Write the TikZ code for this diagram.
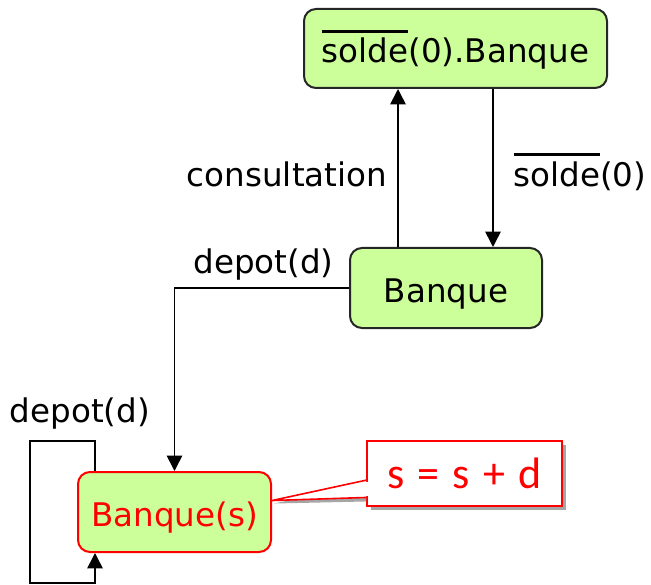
\documentclass[tikz,border=0pt]{standalone}
\usepackage{fontspec}
\setmainfont{DejaVu Sans}
\newfontfamily\notefont{Carlito}
\usetikzlibrary{arrows.meta,calc}
\definecolor{stategreen}{HTML}{CCFF99}
\definecolor{noteshadow}{HTML}{A6A6A6}
% overline that does not change the height of the text it marks
\newcommand\barred[1]{\setbox0=\hbox{#1}\rlap{\smash{\raisebox{\dimexpr\ht0+3.8pt\relax}{\rule{\wd0}{2.2pt}}}}\box0}
\begin{document}
\begin{tikzpicture}[x=0.75pt,y=-0.75pt,
  every node/.style={font=\fontsize{24.4pt}{29pt}\selectfont},
  state/.style={draw=black!85, line width=1.5pt, fill=stategreen, rounded corners=9pt,
    minimum height=80*0.75pt, text height=21.75pt, text depth=0pt, inner sep=0pt},
  arr/.style={line width=1.2pt, -{Triangle[length=11.5pt,width=11.5pt]}},
  lbl/.style={anchor=base, inner sep=0pt}]
\useasboundingbox (0,0) rectangle (651,585);

% states
\node[state, minimum width=303*0.75pt, minimum height=79*0.75pt] (top) at (455.5,48.5) {\barred{solde}(0).Banque};
\node[state, minimum width=192*0.75pt] (bq) at (446,288) {Banque};
\node[state, minimum width=193*0.75pt, draw=red, text=red] (bqs) at (174.5,512) {Banque(s)};

% note attached to Banque(s)
\coordinate (nt) at (464.5,473.5);
\fill[noteshadow] ($(nt)+(-97.5+4,-32.5+4)$) rectangle ($(nt)+(97.5+4,32.5+4)$);
\node[draw=red, line width=1.2pt, fill=white, text=red, minimum width=195*0.75pt, minimum height=65*0.75pt,
  text height=22pt, text depth=0pt, inner sep=0pt, font=\notefont\fontsize{33pt}{38pt}\selectfont] (note) at (nt)
  {s\hspace{10pt}=\hspace{10pt}s\hspace{10pt}+\hspace{10pt}d};
\coordinate (tip) at ($(bqs.north east)!0.36!(bqs.south east)$);
\coordinate (p1) at ($(note.north west)!0.6!(note.south west)$);
\coordinate (p2) at ($(note.north west)!0.86!(note.south west)$);
\fill[noteshadow] ($(p2)+(0,4)$) -- ($(tip)+(2,3)$) -- ($(p1)+(0,4)$) -- cycle;
\filldraw[draw=red, fill=white, line width=1.2pt, line join=miter] (p1) -- (tip) -- (p2);
\draw[white, line width=2pt] ($(p1)+(0,1.5)$) -- ($(p2)+(0,-1.5)$);

% transitions
\coordinate (cx) at (398,0);
\coordinate (sx) at (493,0);
\draw[arr] (cx |- bq.north) -- (cx |- top.south);
\draw[arr] (sx |- top.south) -- (sx |- bq.north);
\draw[arr] (bq.west) -| (bqs.north);
\coordinate (lx) at (95,0);
\draw[arr] (lx |- bqs.north) -- (95,441) -- (30,441) -- (30,583) -- (95,583) -- (lx |- bqs.south);

% transition labels
\node[lbl] (lcons) at (287,186) {consultation};
\node[lbl] (lsolde) at (580,186) {\barred{solde}(0)};
\node[lbl] (ldep) at (263.5,273) {depot(d)};
\node[lbl] (lloop) at (80,422) {depot(d)};
\end{tikzpicture}
\end{document}
